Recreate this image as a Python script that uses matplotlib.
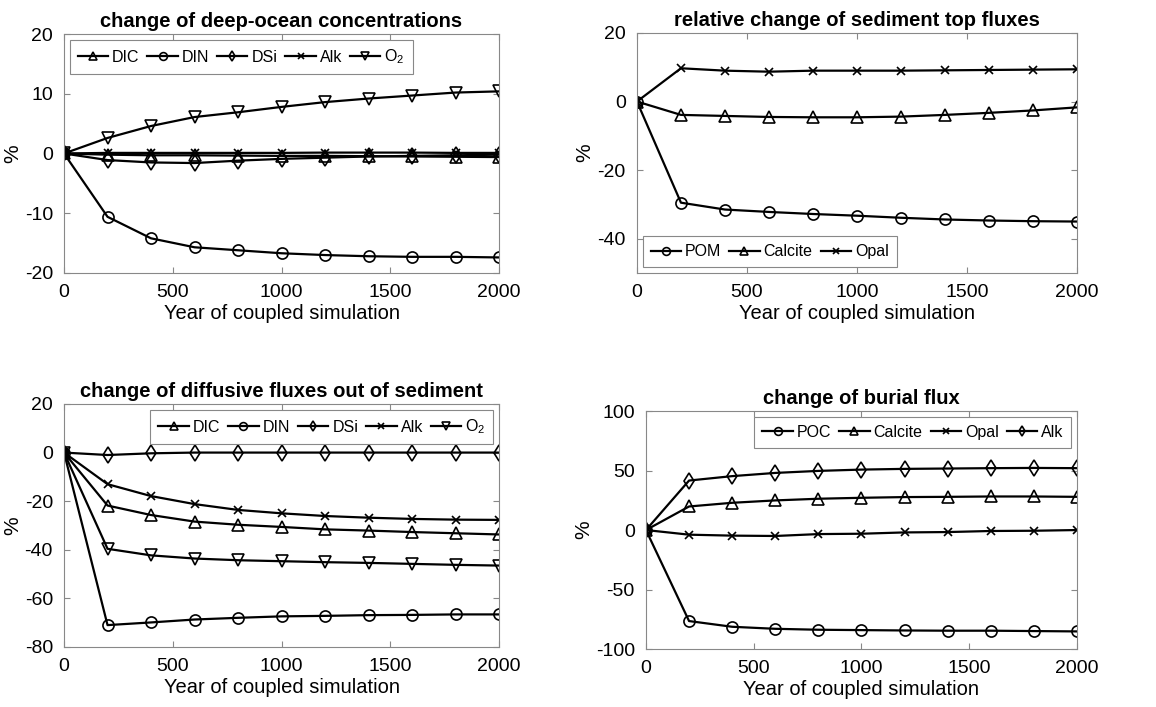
import matplotlib
matplotlib.use("Agg")
import matplotlib.pyplot as plt

plt.rcParams['font.family'] = ['Liberation Sans', 'DejaVu Sans']
plt.rcParams['mathtext.default'] = 'regular'
plt.rcParams['axes.unicode_minus'] = False

years = [0, 200, 400, 600, 800, 1000, 1200, 1400, 1600, 1800, 2000]

# deep-ocean concentrations (%)
ocean_dic = [0, -0.2, -0.3, -0.3, -0.35, -0.4, -0.4, -0.45, -0.5, -0.55, -0.6]
ocean_din = [0, -10.6, -14.2, -15.7, -16.2, -16.7, -17.0, -17.2, -17.3, -17.3, -17.4]
ocean_dsi = [0, -1.1, -1.5, -1.6, -1.2, -0.9, -0.7, -0.5, -0.4, -0.3, -0.2]
ocean_alk = [0, 0.1, 0.1, 0.1, 0.1, 0.1, 0.15, 0.15, 0.15, 0.1, 0.1]
ocean_o2 = [0, 2.6, 4.6, 6.1, 6.9, 7.8, 8.6, 9.2, 9.7, 10.2, 10.4]

# sediment top fluxes (%)
top_pom = [0, -29.5, -31.5, -32.2, -32.8, -33.3, -33.9, -34.4, -34.7, -34.9, -35.0]
top_calcite = [0, -3.9, -4.2, -4.5, -4.6, -4.6, -4.4, -3.9, -3.3, -2.6, -1.7]
top_opal = [0, 9.7, 9.0, 8.7, 9.0, 9.0, 9.0, 9.1, 9.2, 9.3, 9.4]

# diffusive fluxes out of sediment (%)
diff_dic = [0, -21.8, -25.7, -28.4, -29.7, -30.6, -31.6, -32.1, -32.7, -33.2, -33.7]
diff_din = [0, -71.0, -69.9, -68.7, -68.0, -67.4, -67.2, -66.9, -66.8, -66.6, -66.6]
diff_dsi = [0, -1.0, -0.3, 0, 0, 0, 0, 0, 0, 0, 0]
diff_alk = [0, -13.0, -17.9, -21.2, -23.6, -25.0, -26.1, -26.8, -27.3, -27.6, -27.7]
diff_o2 = [0, -39.6, -42.3, -43.6, -44.3, -44.7, -45.1, -45.4, -45.8, -46.2, -46.5]

# burial flux (%)
bur_poc = [0, -76.5, -81.3, -83.0, -83.8, -84.1, -84.4, -84.6, -84.6, -84.9, -85.2]
bur_calcite = [0, 19.8, 22.9, 24.9, 26.3, 27.1, 27.7, 27.9, 28.2, 28.2, 27.9]
bur_opal = [0, -3.9, -4.7, -5.0, -3.4, -3.1, -2.0, -1.7, -0.8, -0.6, 0]
bur_alk = [0, 41.6, 45.3, 48.0, 49.7, 50.8, 51.4, 51.7, 52.0, 52.2, 52.0]


def draw(ax, series, title, ylim, yticks, legloc, ncol):
    for vals, lab, m in series:
        ax.plot(years, vals, color='k', lw=1.6, marker=m, ms=8 if m != 'x' else 6,
                mfc='none', mec='k', mew=1.2, label=lab)
    ax.set_xlim(0, 2000)
    ax.set_ylim(*ylim)
    ax.set_yticks(yticks)
    ax.set_xticks([0, 500, 1000, 1500, 2000])
    ax.set_title(title, fontsize=14.5, fontweight='bold', pad=5)
    ax.set_xlabel('Year of coupled simulation', fontsize=14.5, labelpad=2)
    ax.set_ylabel('%', fontsize=15, labelpad=2)
    ax.tick_params(direction='in', top=True, right=True, labelsize=14,
                   color='#888888', length=4, pad=8)
    for s in ax.spines.values():
        s.set_color('#888888')
        s.set_linewidth(0.8)
    leg = ax.legend(loc=legloc, ncol=ncol, fontsize=11.5, handlelength=1.9,
                    handletextpad=0.25, columnspacing=0.5, borderpad=0.5,
                    markerscale=0.7, fancybox=False, framealpha=1,
                    borderaxespad=0.35)
    leg.get_frame().set_edgecolor('#888888')
    leg.get_frame().set_linewidth(0.8)


fig = plt.figure(figsize=(11.56, 7.07), dpi=100)

ax1 = fig.add_axes([0.0554, 0.6139, 0.3763, 0.338])
draw(ax1, [(ocean_dic, 'DIC', '^'), (ocean_din, 'DIN', 'o'), (ocean_dsi, 'DSi', 'd'),
           (ocean_alk, 'Alk', 'x'), (ocean_o2, 'O$_2$', 'v')],
     'change of deep-ocean concentrations', (-20, 20), [-20, -10, 0, 10, 20],
     'upper left', 5)

ax2 = fig.add_axes([0.551, 0.6139, 0.3806, 0.3395])
draw(ax2, [(top_pom, 'POM', 'o'), (top_calcite, 'Calcite', '^'), (top_opal, 'Opal', 'x')],
     'relative change of sediment top fluxes', (-50, 20), [-40, -20, 0, 20],
     'lower left', 3)

ax3 = fig.add_axes([0.0554, 0.0849, 0.3763, 0.3437])
draw(ax3, [(diff_dic, 'DIC', '^'), (diff_din, 'DIN', 'o'), (diff_dsi, 'DSi', 'd'),
           (diff_alk, 'Alk', 'x'), (diff_o2, 'O$_2$', 'v')],
     'change of diffusive fluxes out of sediment', (-80, 20), [-80, -60, -40, -20, 0, 20],
     'upper right', 5)

ax4 = fig.add_axes([0.5588, 0.082, 0.3728, 0.3366])
draw(ax4, [(bur_poc, 'POC', 'o'), (bur_calcite, 'Calcite', '^'), (bur_opal, 'Opal', 'x'),
           (bur_alk, 'Alk', 'd')],
     'change of burial flux', (-100, 100), [-100, -50, 0, 50, 100],
     'upper right', 4)

fig.savefig('out.png', dpi=100)
